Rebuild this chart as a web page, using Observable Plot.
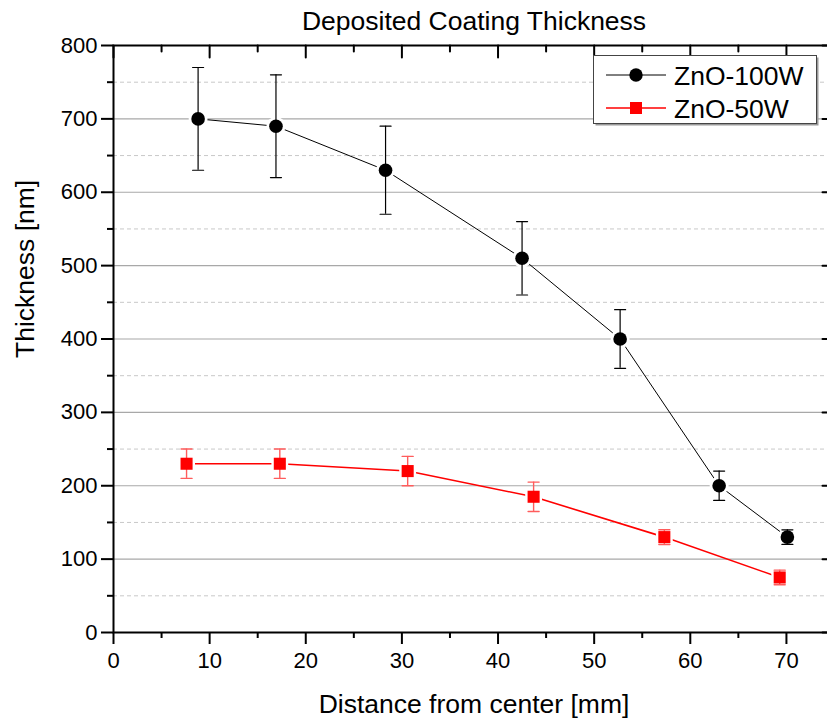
<!DOCTYPE html>
<html>
<head>
<meta charset="utf-8">
<script src="https://cdn.jsdelivr.net/npm/d3@7"></script>
<script src="https://cdn.jsdelivr.net/npm/@observablehq/plot@0.6"></script>
<style>
  html, body { margin: 0; padding: 0; background: #fff; overflow: hidden; }
  #wrap { position: relative; width: 827px; height: 720px; overflow: hidden; }
  #wrap svg { max-width: none !important; }
  #legend { position: absolute; left: 0; top: 0; }
</style>
</head>
<body>
<div id="wrap"></div>
<script>
// ---- data ----
const chartTitle = "Deposited Coating Thickness";
const xLabel = "Distance from center [mm]";
const yLabel = "Thickness [nm]";
const seriesNames = ["ZnO-100W", "ZnO-50W"];

const distance100 = [8.8, 16.9, 28.3, 42.5, 52.7, 63.0, 70.1];
const thickness100 = [700, 690, 630, 510, 400, 200, 130];
const error100 = [70, 70, 60, 50, 40, 20, 10];

const distance50 = [7.6, 17.3, 30.6, 43.7, 57.3, 69.3];
const thickness50 = [230, 230, 220, 185, 130, 75];
const error50 = [20, 20, 20, 20, 10, 10];

const xMajorTicks = [0, 10, 20, 30, 40, 50, 60, 70];
const xMinorTicks = [5, 15, 25, 35, 45, 55, 65];
const yMajorTicks = [0, 100, 200, 300, 400, 500, 600, 700, 800];
const yMinorTicks = [50, 150, 250, 350, 450, 550, 650, 750];
const yGridMajor = [100, 200, 300, 400, 500, 600, 700];

// ---- build ----
const s100 = distance100.map((x, i) => ({x, y: thickness100[i], lo: thickness100[i] - error100[i], hi: thickness100[i] + error100[i]}));
const s50 = distance50.map((x, i) => ({x, y: thickness50[i], lo: thickness50[i] - error50[i], hi: thickness50[i] + error50[i]}));

const seg = {draw(ctx, l) { ctx.moveTo(0, 0); ctx.lineTo(0, -l); }};
const red = "#ff0000";
const redErr = "#ff5c5c";

const plot = Plot.plot({
  width: 835,
  height: 720,
  marginLeft: 113,
  marginRight: 1,
  marginTop: 45,
  marginBottom: 88,
  style: {fontFamily: "'Liberation Sans', Arial, sans-serif", fontSize: "22px", background: "#fff", color: "#000", maxWidth: "none"},
  x: {domain: [0, 75]},
  y: {domain: [0, 800]},
  marks: [
    Plot.ruleY(yMinorTicks, {stroke: "#c8c8c8", strokeWidth: 1, strokeDasharray: "4,3"}),
    Plot.ruleY(yGridMajor, {stroke: "#a8a8a8", strokeWidth: 1.2}),
    // lines
    Plot.line(s100, {x: "x", y: "y", stroke: "#000", strokeWidth: 1}),
    Plot.line(s50, {x: "x", y: "y", stroke: red, strokeWidth: 1.6}),
    // halos to create gaps in lines at markers
    Plot.dot(s100, {x: "x", y: "y", r: 9.5, fill: "#fff", stroke: "none"}),
    Plot.dot(s50, {x: "x", y: "y", symbol: "square", r: 9.5, fill: "#fff", stroke: "none"}),
    // error bars
    Plot.ruleX(s100, {x: "x", y1: "lo", y2: "hi", stroke: "#000", strokeWidth: 1.2}),
    Plot.vector(s100, {x: "x", y: "hi", length: 11, rotate: 90, anchor: "middle", shape: seg, stroke: "#000", strokeWidth: 1.2}),
    Plot.vector(s100, {x: "x", y: "lo", length: 11, rotate: 90, anchor: "middle", shape: seg, stroke: "#000", strokeWidth: 1.2}),
    Plot.ruleX(s50, {x: "x", y1: "lo", y2: "hi", stroke: redErr, strokeWidth: 1.4}),
    Plot.vector(s50, {x: "x", y: "hi", length: 11, rotate: 90, anchor: "middle", shape: seg, stroke: redErr, strokeWidth: 1.4}),
    Plot.vector(s50, {x: "x", y: "lo", length: 11, rotate: 90, anchor: "middle", shape: seg, stroke: redErr, strokeWidth: 1.4}),
    // markers
    Plot.dot(s100, {x: "x", y: "y", r: 6.8, fill: "#000", stroke: "none"}),
    Plot.dot(s50, {x: "x", y: "y", symbol: "square", r: 6.8, fill: red, stroke: "none"}),
    // frame
    Plot.frame({stroke: "#000", strokeWidth: 2}),
    // bottom axis
    Plot.axisX({ticks: xMajorTicks, tickSize: 12, tickPadding: 8, strokeWidth: 2, fontSize: 22, label: null, tickFormat: d3.format("d")}),
    Plot.axisX({ticks: xMinorTicks, tickSize: 6, strokeWidth: 2, text: null, label: null}),
    // top mirrored ticks (inward)
    Plot.vector(xMajorTicks, {x: d => d, frameAnchor: "top", length: 12, rotate: 180, anchor: "start", shape: seg, stroke: "#000", strokeWidth: 2}),
    Plot.vector(xMinorTicks, {x: d => d, frameAnchor: "top", length: 6, rotate: 180, anchor: "start", shape: seg, stroke: "#000", strokeWidth: 2}),
    // left axis
    Plot.axisY({ticks: yMajorTicks, tickSize: 12, tickPadding: 4, strokeWidth: 2, fontSize: 22, label: null, tickFormat: d3.format("d")}),
    Plot.axisY({ticks: yMinorTicks, tickSize: 6, strokeWidth: 2, text: null, label: null}),
    // right mirrored ticks (inward)
    Plot.vector(yMajorTicks, {y: d => d, frameAnchor: "right", length: 12, rotate: -90, anchor: "start", shape: seg, stroke: "#000", strokeWidth: 2}),
    Plot.vector(yMinorTicks, {y: d => d, frameAnchor: "right", length: 6, rotate: -90, anchor: "start", shape: seg, stroke: "#000", strokeWidth: 2}),
    // texts
    Plot.text([chartTitle], {text: d => d, frameAnchor: "top", dy: -16, lineAnchor: "bottom", fontSize: 26.5, fill: "#000"}),
    Plot.text([xLabel], {text: d => d, frameAnchor: "bottom", dy: 80, lineAnchor: "bottom", fontSize: 26.5, fill: "#000"}),
    Plot.text([yLabel], {text: d => d, frameAnchor: "left", dx: -80, dy: 19, rotate: -90, lineAnchor: "bottom", fontSize: 26.5, fill: "#000"})
  ]
});

const wrap = document.getElementById("wrap");
wrap.appendChild(plot);

// ---- legend overlay ----
const ns = "http://www.w3.org/2000/svg";
const leg = document.createElementNS(ns, "svg");
leg.setAttribute("id", "legend");
leg.setAttribute("width", 827);
leg.setAttribute("height", 720);
leg.style.fontFamily = "'Liberation Sans', Arial, sans-serif";
const sel = d3.select(leg);
sel.append("rect").attr("x", 595.5).attr("y", 57.5).attr("width", 223).attr("height", 68).attr("fill", "#999");
sel.append("rect").attr("x", 593.5).attr("y", 55.5).attr("width", 223).attr("height", 68).attr("fill", "#fff").attr("stroke", "#444").attr("stroke-width", 1);
const rows = [
  {name: seriesNames[0], color: "#000", sym: "circle", w: 1, y: 75},
  {name: seriesNames[1], color: red, sym: "square", w: 1.6, y: 108}
];
rows.forEach(r => {
  sel.append("line").attr("x1", 606).attr("x2", 666).attr("y1", r.y).attr("y2", r.y).attr("stroke", r.color).attr("stroke-width", r.w);
  if (r.sym === "circle") {
    sel.append("circle").attr("cx", 636).attr("cy", r.y).attr("r", 6.7).attr("fill", r.color);
  } else {
    sel.append("rect").attr("x", 630).attr("y", r.y - 6).attr("width", 12).attr("height", 12).attr("fill", r.color);
  }
  sel.append("text").attr("x", 674).attr("y", r.y + 9.5).attr("font-size", 26.5).attr("fill", "#000").text(r.name);
});
wrap.appendChild(leg);
</script>
</body>
</html>
